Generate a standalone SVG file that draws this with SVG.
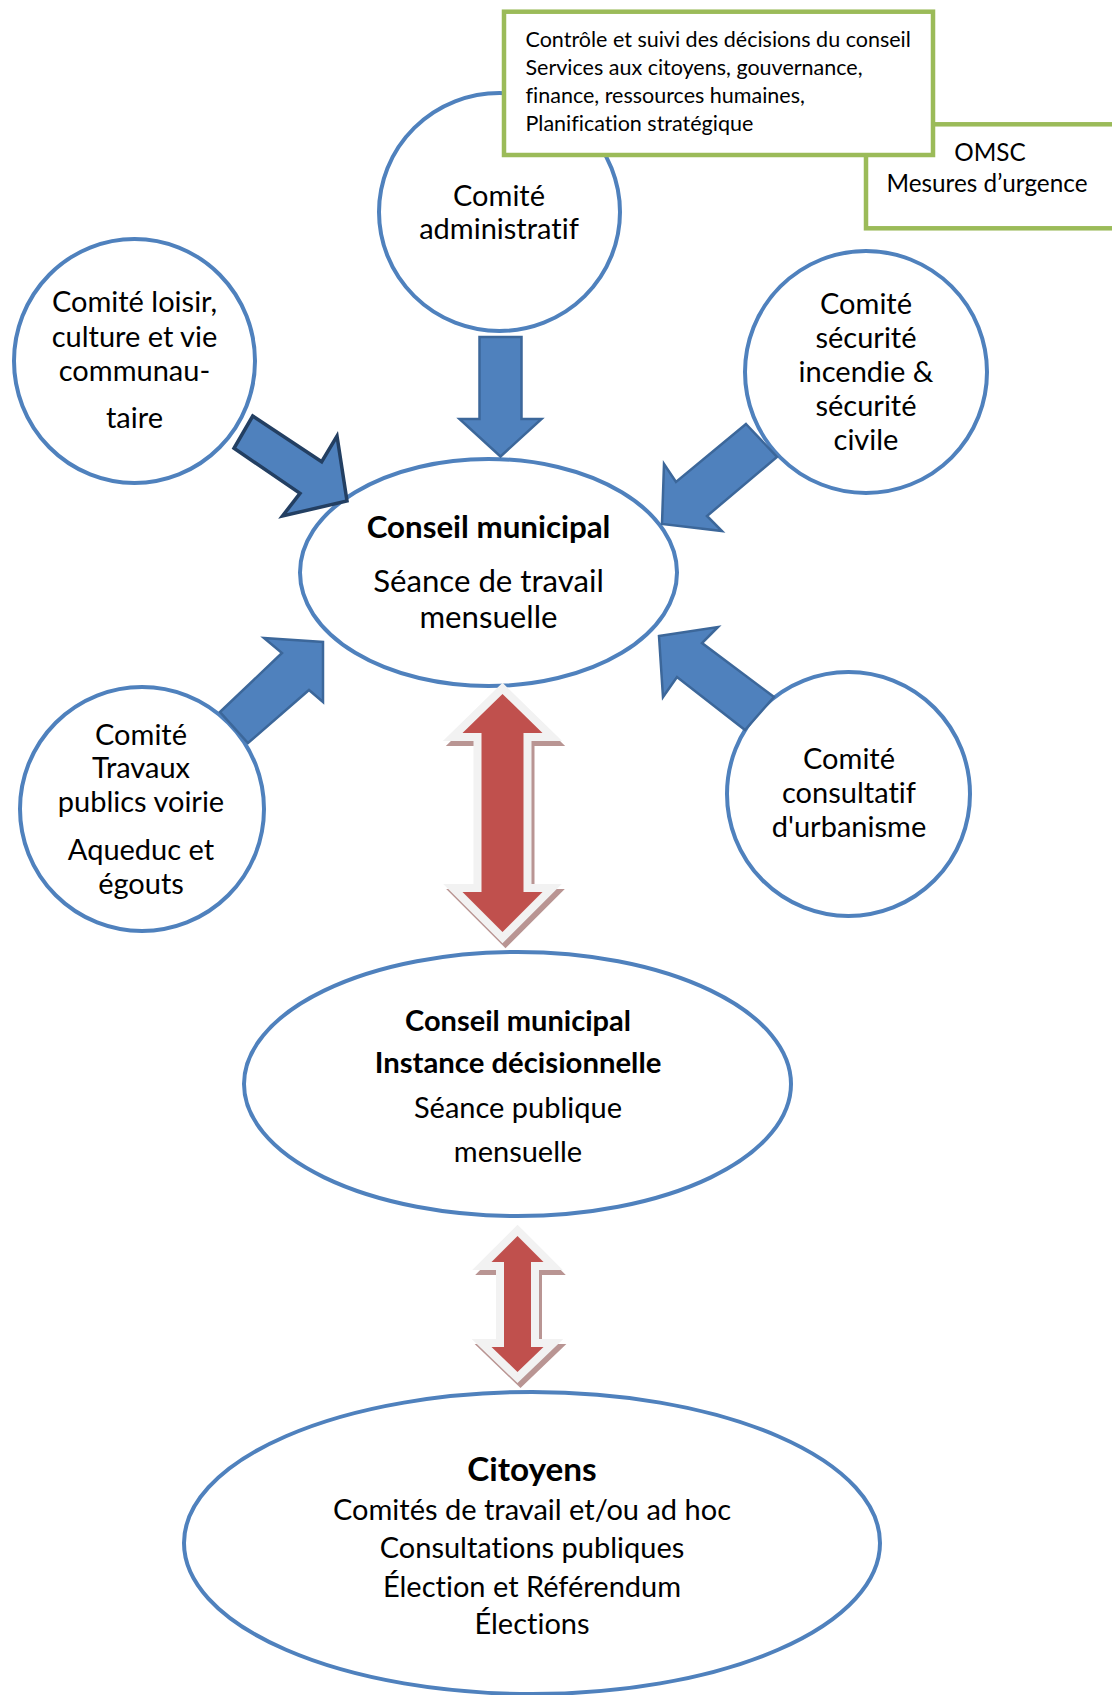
<svg xmlns="http://www.w3.org/2000/svg" width="1112" height="1695" viewBox="0 0 1112 1695">
<style>
.node{fill:#fff;stroke:#4F81BD;stroke-width:4}
.box{fill:#fff;stroke:#9BBB59;stroke-width:4.5}
.t{font-family:Lato,"Open Sans","Liberation Sans",sans-serif;fill:#000;font-variant-ligatures:none}
.c{font-size:29px;text-anchor:middle}
.b{font-weight:bold}
.bx{font-size:21.5px}
.om{font-size:24.3px;text-anchor:middle}
.barrow{fill:#4F81BD;stroke:#3C679A;stroke-width:2.5;stroke-linejoin:miter}
.darrow{fill:#4F81BD;stroke:#233F62;stroke-width:3.5;stroke-linejoin:miter}
.rsh{fill:#B99593;stroke:#B99593;stroke-width:16;stroke-linejoin:miter}
.rwh{fill:#F2F2F2;stroke:#F2F2F2;stroke-width:16;stroke-linejoin:miter}
.rred{fill:#C0504D;stroke:none}
</style>
<rect width="1112" height="1695" fill="#fff"/>

<g id="node-admin">
<ellipse class="node" cx="499.5" cy="212" rx="120.5" ry="119"/>
<text class="t c" x="499" y="206">Comité</text>
<text class="t c" x="499" y="239">administratif</text>
</g>

<g id="node-omsc">
<rect class="box" x="866" y="124.3" width="260" height="104"/>
<text class="t om" x="990" y="161">OMSC</text>
<text class="t om" x="987" y="192">Mesures d’urgence</text>
</g>

<g id="node-admin-details">
<rect class="box" x="504" y="11.7" width="429" height="143.3"/>
<text class="t bx" x="525.5" y="47">Contrôle et suivi des décisions du conseil</text>
<text class="t bx" x="525.5" y="75">Services aux citoyens, gouvernance,</text>
<text class="t bx" x="525.5" y="103">finance, ressources humaines,</text>
<text class="t bx" x="525.5" y="131">Planification stratégique</text>
</g>

<g id="node-loisir">
<ellipse class="node" cx="134.5" cy="361" rx="120.5" ry="122"/>
<text class="t c" x="134.5" y="312">Comité loisir,</text>
<text class="t c" x="134.5" y="347">culture et vie</text>
<text class="t c" x="134.5" y="381">communau-</text>
<text class="t c" x="134.5" y="428">taire</text>
</g>

<g id="node-securite">
<ellipse class="node" cx="866" cy="372" rx="121" ry="121"/>
<text class="t c" x="866" y="314">Comité</text>
<text class="t c" x="866" y="348">sécurité</text>
<text class="t c" x="866" y="382">incendie &amp;</text>
<text class="t c" x="866" y="416">sécurité</text>
<text class="t c" x="866" y="450">civile</text>
</g>

<g id="node-conseil-travail">
<ellipse class="node" cx="488.5" cy="572.5" rx="188.5" ry="113.5"/>
<text class="t b" x="488.5" y="538" font-size="31.3" text-anchor="middle">Conseil municipal</text>
<text class="t" x="488.5" y="592" font-size="31.2" text-anchor="middle">Séance de travail</text>
<text class="t" x="488.5" y="628" font-size="31.2" text-anchor="middle">mensuelle</text>
</g>

<g id="node-travaux">
<ellipse class="node" cx="142" cy="809" rx="122" ry="122"/>
<text class="t c" x="141" y="744.5">Comité</text>
<text class="t c" x="141" y="777.5">Travaux</text>
<text class="t c" x="141" y="811.5">publics voirie</text>
<text class="t c" x="141" y="860">Aqueduc et</text>
<text class="t c" x="141" y="893.5">égouts</text>
</g>

<g id="node-urbanisme">
<ellipse class="node" cx="848.5" cy="794" rx="121.5" ry="122"/>
<text class="t c" x="849" y="769">Comité</text>
<text class="t c" x="849" y="803">consultatif</text>
<text class="t c" x="849" y="837">d'urbanisme</text>
</g>

<g id="node-conseil-decision">
<ellipse class="node" cx="517.5" cy="1084" rx="273.5" ry="132"/>
<text class="t b" x="518" y="1031" font-size="29" text-anchor="middle">Conseil municipal</text>
<text class="t b" x="518" y="1073" font-size="29.3" text-anchor="middle">Instance décisionnelle</text>
<text class="t" x="518" y="1118" font-size="29" text-anchor="middle">Séance publique</text>
<text class="t" x="518" y="1162" font-size="29" text-anchor="middle">mensuelle</text>
</g>

<g id="node-citoyens">
<ellipse class="node" cx="532" cy="1543" rx="348" ry="151"/>
<text class="t b" x="532" y="1481" font-size="33.3" text-anchor="middle">Citoyens</text>
<text class="t" x="532" y="1520" font-size="29" text-anchor="middle">Comités de travail et/ou ad hoc</text>
<text class="t" x="532" y="1558" font-size="29" text-anchor="middle">Consultations publiques</text>
<text class="t" x="532" y="1597" font-size="29" text-anchor="middle">Élection et Référendum</text>
<text class="t" x="532" y="1634" font-size="29" text-anchor="middle">Élections</text>
</g>

<g id="connectors">
<polygon class="barrow" points="479.5,337 521.5,337 521.5,419 541.5,419 500.5,456.5 459.5,419 479.5,419"/>
<polygon class="darrow" points="252.7,416 321.7,461.7 337,436 347,501 282.5,516 300,493.3 234,448.3"/>
<polygon class="barrow" points="746,424 777,457 707,516 722,531 662,524 664,464 676,482"/>
<polygon class="barrow" points="220,712 282,653 264,638 323,642 323,702 309,690 248,743"/>
<polygon class="barrow" points="659,636 718,627 702,643 774,697 745,730 677,677 663,697"/>
<g id="red-arrow-1">
<polygon class="rsh" transform="translate(3,5)" points="502.5,694 542.5,733 523.5,733 523.5,892 542.5,892 502.5,932 462.5,892 481.5,892 481.5,733 462.5,733"/>
<polygon class="rwh" points="502.5,694 542.5,733 523.5,733 523.5,892 542.5,892 502.5,932 462.5,892 481.5,892 481.5,733 462.5,733"/>
<polygon class="rred" points="502.5,694 542.5,733 523.5,733 523.5,892 542.5,892 502.5,932 462.5,892 481.5,892 481.5,733 462.5,733"/>
</g>
<g id="red-arrow-2">
<polygon class="rsh" transform="translate(3,5)" points="517.5,1236 543.5,1262 531,1262 531,1347 543.5,1347 517.5,1372 491.5,1347 504,1347 504,1262 491.5,1262"/>
<polygon class="rwh" points="517.5,1236 543.5,1262 531,1262 531,1347 543.5,1347 517.5,1372 491.5,1347 504,1347 504,1262 491.5,1262"/>
<polygon class="rred" points="517.5,1236 543.5,1262 531,1262 531,1347 543.5,1347 517.5,1372 491.5,1347 504,1347 504,1262 491.5,1262"/>
</g>
</g>
</svg>
